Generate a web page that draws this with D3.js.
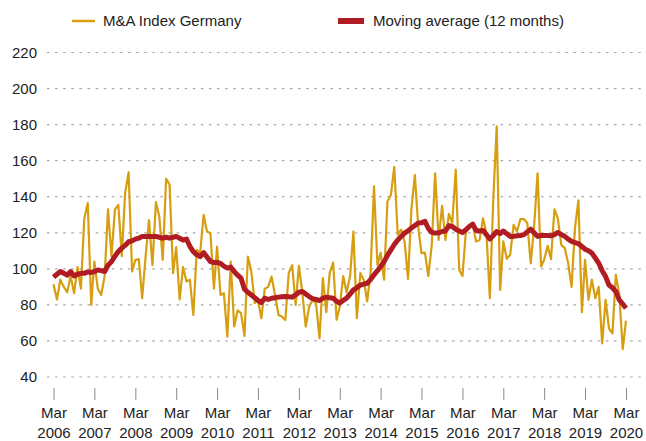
<!DOCTYPE html>
<html>
<head>
<meta charset="utf-8">
<script src="https://cdn.jsdelivr.net/npm/d3@7"></script>
<style>
  body { margin: 0; background: #fff; }
  svg { font-family: "Liberation Sans", Arial, sans-serif; }
</style>
</head>
<body>
<script>
// Monthly M&A index, Mar 2006 .. Mar 2020
const startMonth = new Date(2006, 2, 1);
const indexValues = [
  91.5, 83, 94, 90, 87, 96, 86.5, 101, 89, 128, 136.5, 80,
  104, 89, 85.5, 96, 133, 107, 133, 135.5, 107, 142, 153.5, 98.5,
  105, 105.4, 83.7, 107, 127, 102, 137, 129, 105, 150, 146.7, 97.6,
  112, 83, 101, 93, 94, 74.4, 110.5, 108.7, 130, 120.7, 119.8, 89,
  112.4, 85.5, 86.5, 62.4, 104, 68, 77, 75.4, 62.8, 106.8, 98.5, 81,
  82.8, 72.6, 89, 90, 95.7, 85.5, 74.4, 73.5, 71.6, 97.6, 102, 80,
  101.7, 86.5, 68, 79, 82.8, 81, 61.5, 94.8, 76, 97.6, 103.5, 71.7,
  79, 96, 87, 95.7, 120.7, 72.6, 97.6, 94, 82, 97.6, 145.7, 102,
  109, 94, 137.4, 141, 156.5, 119, 121.7, 115.2, 94.4, 133, 152, 122.6,
  108.7, 109, 96, 113.3, 153, 116, 135, 116, 130.5, 125.4, 155, 99.4,
  96, 120.7, 123.5, 124.4, 115.2, 116, 128, 119.8, 83.7, 138, 179, 88.3,
  115.2, 105.6, 107.8, 124.4, 120.7, 127.6, 127.6, 125.4, 103.2, 123.5, 153, 101.3,
  105, 112.8, 105.4, 133, 128, 113.3, 111.5, 103.2, 90, 122.6, 138, 76,
  105, 82.8, 94, 83.7, 90, 58.7, 82.8, 67, 64.2, 96.7, 85.5, 55.4,
  71.3
];
// 12-month moving average as drawn
const movingAvg = [
  95.4, 97, 98.5, 97.5, 96.5, 98.5, 96, 97, 97.5, 97.5, 98.3, 98,
  98.5, 99.4, 99, 98.5, 102, 104, 107, 109.6, 111.5, 113, 115, 115.5,
  116.5, 117, 118, 118, 118, 118, 118, 117.5, 117, 117.5, 117, 117.5,
  118, 117, 116, 116.5, 112.5, 109.5, 107.8, 106.8, 109, 106.5, 104, 103.5,
  103.5, 103, 101.5, 100.4, 101, 98.5, 96.5, 94.8, 88.7, 87, 85.5, 84,
  82.5, 81.3, 83.7, 83, 83.7, 84, 84.3, 84.5, 84.6, 84.5, 84.3, 85.5,
  87, 87.4, 86, 84.6, 83.5, 83, 82.4, 83.7, 84.3, 84, 83.7, 82,
  81, 82.5, 83.7, 86, 88.3, 89.5, 91, 91.5, 92, 94, 96.7, 99,
  101.3, 104, 107.5, 110.5, 113.5, 116, 118, 119.8, 121, 122.6, 124, 125.4,
  125.5, 126.3, 122.5, 120.2, 119.8, 120, 120.7, 121, 124, 123.5, 122, 121,
  120.2, 121.7, 123.5, 124.8, 121.3, 121, 121.3, 119, 116.5, 118.5, 120.7, 119.5,
  121, 119.5, 118, 118, 118.3, 118.5, 119, 120.5, 122, 120, 118, 118.5,
  118.5, 118.5, 118.3, 119, 120.2, 119, 118, 116.5, 115.2, 114.6, 114, 112.4,
  110.9, 110, 108.7, 106, 103.2, 99, 95.7, 91, 89.5, 87.4, 82.8, 80.5,
  78.1
];
const yTicks = [40, 60, 80, 100, 120, 140, 160, 180, 200, 220];
const tickYears = d3.range(2006, 2021);
const seriesNames = ["M&A Index Germany", "Moving average (12 months)"];
const colors = ["#d69e10", "#b01c22"];

const width = 646, height = 441;
const svg = d3.select("body").append("svg")
  .attr("width", width)
  .attr("height", height);

const monthDate = i => d3.timeMonth.offset(startMonth, i);

const x = d3.scaleTime()
  .domain([startMonth, monthDate(indexValues.length - 1)])
  .range([53.5, 626]);
const y = d3.scaleLinear()
  .domain([40, 220])
  .range([377, 52.5]);

// gridlines + y labels
const grid = svg.append("g");
grid.selectAll("line")
  .data(yTicks)
  .join("line")
  .attr("x1", 47).attr("x2", 646)
  .attr("y1", d => y(d)).attr("y2", d => y(d))
  .attr("stroke", "#a8a8a8")
  .attr("stroke-width", 1.2)
  .attr("stroke-dasharray", "2.5,5.6");
grid.selectAll("text")
  .data(yTicks)
  .join("text")
  .attr("x", 37)
  .attr("y", d => y(d))
  .attr("dy", "0.35em")
  .attr("text-anchor", "end")
  .attr("font-size", 15)
  .attr("fill", "#222")
  .text(d => d);

// x axis
const xAxis = d3.axisBottom(x)
  .tickValues(tickYears.map(yr => new Date(yr, 2, 1)))
  .tickSize(12)
  .tickFormat("");
const gx = svg.append("g")
  .attr("transform", "translate(0,388)")
  .call(xAxis);
gx.select(".domain").remove();
gx.selectAll(".tick line").attr("stroke", "#8a8a8a");
const xl = gx.selectAll(".tick").append("text")
  .attr("text-anchor", "middle")
  .attr("font-size", 15)
  .attr("fill", "#222");
xl.append("tspan").attr("x", 0).attr("y", 30).text("Mar");
xl.append("tspan").attr("x", 0).attr("y", 49.5).text((d, i) => tickYears[i]);

// lines
const line = d3.line()
  .x((d, i) => x(monthDate(i)))
  .y(d => y(d));

svg.append("path")
  .datum(indexValues)
  .attr("fill", "none")
  .attr("stroke", colors[0])
  .attr("stroke-width", 2.2)
  .attr("stroke-linejoin", "round")
  .attr("d", line);

svg.append("path")
  .datum(movingAvg)
  .attr("fill", "none")
  .attr("stroke", colors[1])
  .attr("stroke-width", 5)
  .attr("stroke-linejoin", "round")
  .attr("d", line);

// legend
const legend = svg.append("g");
legend.append("line")
  .attr("x1", 72).attr("x2", 95).attr("y1", 21).attr("y2", 21)
  .attr("stroke", colors[0]).attr("stroke-width", 2.5);
legend.append("text")
  .attr("x", 103).attr("y", 21).attr("dy", "0.35em")
  .attr("font-size", 15).attr("fill", "#222")
  .text(seriesNames[0]);
legend.append("rect")
  .attr("x", 338).attr("y", 18).attr("width", 26).attr("height", 6)
  .attr("fill", colors[1]);
legend.append("text")
  .attr("x", 373).attr("y", 21).attr("dy", "0.35em")
  .attr("font-size", 15).attr("fill", "#222")
  .text(seriesNames[1]);
</script>
</body>
</html>
